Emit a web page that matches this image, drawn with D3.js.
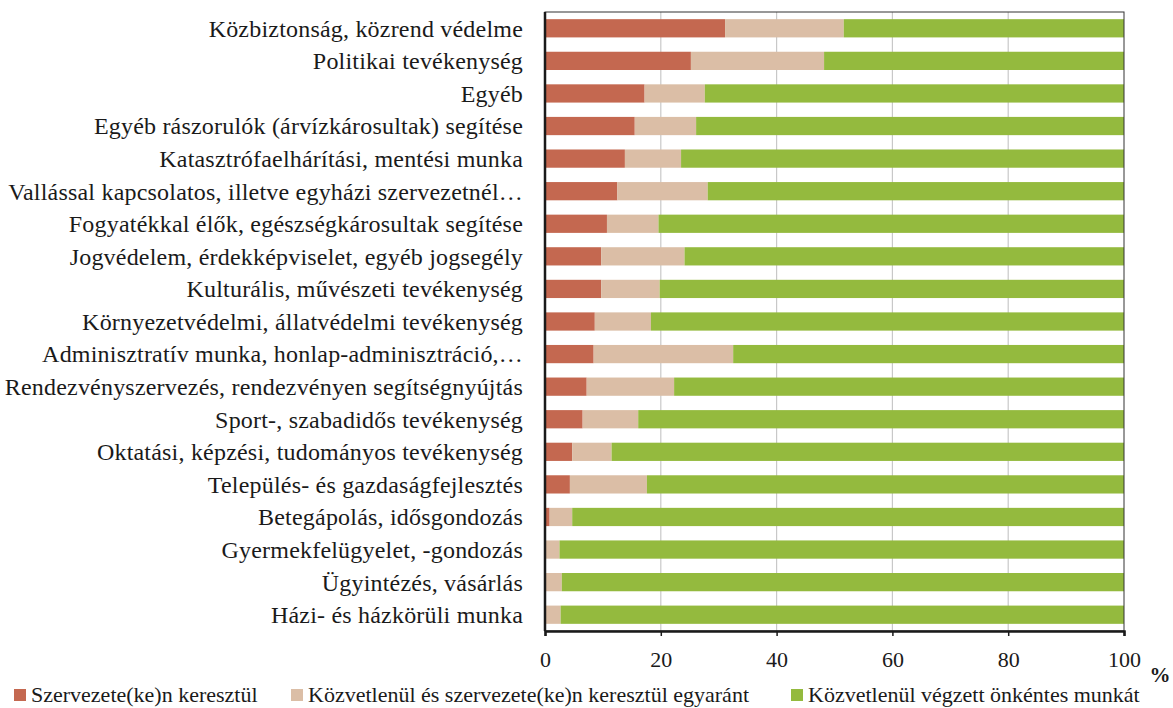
<!DOCTYPE html>
<html>
<head>
<meta charset="utf-8">
<script src="https://cdn.jsdelivr.net/npm/d3@7"></script>
<style>
  body { margin: 0; background: #fff; }
  svg text { font-family: "Liberation Serif", "DejaVu Serif", serif; fill: #1a1a1a; }
</style>
</head>
<body>
<script>
// categories, top to bottom
var categories = [
  "Közbiztonság, közrend védelme",
  "Politikai tevékenység",
  "Egyéb",
  "Egyéb rászorulók (árvízkárosultak) segítése",
  "Katasztrófaelhárítási, mentési munka",
  "Vallással kapcsolatos, illetve egyházi szervezetnél…",
  "Fogyatékkal élők, egészségkárosultak segítése",
  "Jogvédelem, érdekképviselet, egyéb jogsegély",
  "Kulturális, művészeti tevékenység",
  "Környezetvédelmi, állatvédelmi tevékenység",
  "Adminisztratív munka, honlap-adminisztráció,…",
  "Rendezvényszervezés, rendezvényen segítségnyújtás",
  "Sport-, szabadidős tevékenység",
  "Oktatási, képzési, tudományos tevékenység",
  "Település- és gazdaságfejlesztés",
  "Betegápolás, idősgondozás",
  "Gyermekfelügyelet, -gondozás",
  "Ügyintézés, vásárlás",
  "Házi- és házkörüli munka"
];

var seriesNames = [
  "Szervezete(ke)n keresztül",
  "Közvetlenül és szervezete(ke)n keresztül egyaránt",
  "Közvetlenül végzett önkéntes munkát"
];

var viaOrg  = [31.1, 25.2, 17.2, 15.5, 13.8, 12.5, 10.7, 9.7, 9.7, 8.6, 8.4, 7.2, 6.5, 4.7, 4.3, 0.8, 0, 0, 0];
var both    = [20.5, 23.0, 10.4, 10.6, 9.7, 15.6, 8.9, 14.4, 10.1, 9.7, 24.1, 15.1, 9.6, 6.8, 13.3, 3.9, 2.5, 2.9, 2.7];
var direct  = categories.map(function (c, i) { return 100 - viaOrg[i] - both[i]; });

var xTicks = [0, 20, 40, 60, 80, 100];
var colors = ["#c46850", "#dbbea6", "#94ba3e"];

var width = 1173, height = 708;
var margin = {top: 12, right: 49, bottom: 77, left: 545};

var svg = d3.select("body").append("svg").attr("width", width).attr("height", height);

var x = d3.scaleLinear().domain([0, 100]).range([margin.left, width - margin.right]);
var y = d3.scaleBand().domain(categories).range([margin.top, height - margin.bottom]).paddingInner(0.44).paddingOuter(0.22);

var rows = categories.map(function (c, i) {
  return {cat: c, a: viaOrg[i], b: both[i], c: direct[i]};
});
var stack = d3.stack().keys(["a", "b", "c"])(rows);

// gridlines
svg.append("g").selectAll("line")
  .data(xTicks.slice(1, -1))
  .enter().append("line")
  .attr("x1", function (d) { return x(d); })
  .attr("x2", function (d) { return x(d); })
  .attr("y1", margin.top)
  .attr("y2", height - margin.bottom)
  .attr("stroke", "#c8c8c8")
  .attr("stroke-width", 1.2);

// bars
svg.append("g").selectAll("g")
  .data(stack)
  .enter().append("g")
  .attr("fill", function (d, i) { return colors[i]; })
  .selectAll("rect")
  .data(function (d) { return d; })
  .enter().append("rect")
  .attr("x", function (d) { return x(d[0]); })
  .attr("width", function (d) { return x(d[1]) - x(d[0]); })
  .attr("y", function (d) { return y(d.data.cat); })
  .attr("height", y.bandwidth());

// plot frame (thin top/right)
svg.append("rect")
  .attr("x", x(0)).attr("y", margin.top)
  .attr("width", x(100) - x(0)).attr("height", height - margin.bottom - margin.top)
  .attr("fill", "none").attr("stroke", "#333").attr("stroke-width", 1);

// x axis
var xAxis = svg.append("g")
  .attr("transform", "translate(0," + (height - margin.bottom) + ")")
  .call(d3.axisBottom(x).tickValues(xTicks).tickSize(5).tickPadding(15));
xAxis.select(".domain").attr("stroke", "#1a1a1a").attr("stroke-width", 2.5);
xAxis.selectAll(".tick line").attr("stroke", "#1a1a1a").attr("stroke-width", 1.5);
xAxis.selectAll(".tick text").style("font-size", "22px").attr("fill", "#1a1a1a");

// y axis line + labels
svg.append("line")
  .attr("x1", x(0)).attr("x2", x(0))
  .attr("y1", margin.top).attr("y2", height - margin.bottom)
  .attr("stroke", "#1a1a1a").attr("stroke-width", 2.5);

svg.append("g").selectAll("text")
  .data(categories)
  .enter().append("text")
  .attr("x", 523)
  .attr("y", function (d) { return y(d) + y.bandwidth() / 2; })
  .attr("dy", "0.35em")
  .attr("text-anchor", "end")
  .style("font-size", "24px")
  .style("letter-spacing", "0.2px")
  .text(function (d) { return d; });

// unit label
svg.append("text")
  .attr("x", 1160).attr("y", 682)
  .attr("text-anchor", "middle")
  .style("font-size", "21px")
  .style("font-weight", "bold")
  .text("%");

// legend
var legendX = [14, 291, 791];
var legend = svg.append("g").selectAll("g")
  .data(seriesNames)
  .enter().append("g")
  .attr("transform", function (d, i) { return "translate(" + legendX[i] + ",689)"; });
legend.append("rect")
  .attr("width", 12).attr("height", 12)
  .attr("fill", function (d, i) { return colors[i]; });
legend.append("text")
  .attr("x", 17).attr("y", 5).attr("dy", "0.35em")
  .style("font-size", "22px")
  .text(function (d) { return d; });
</script>
</body>
</html>
